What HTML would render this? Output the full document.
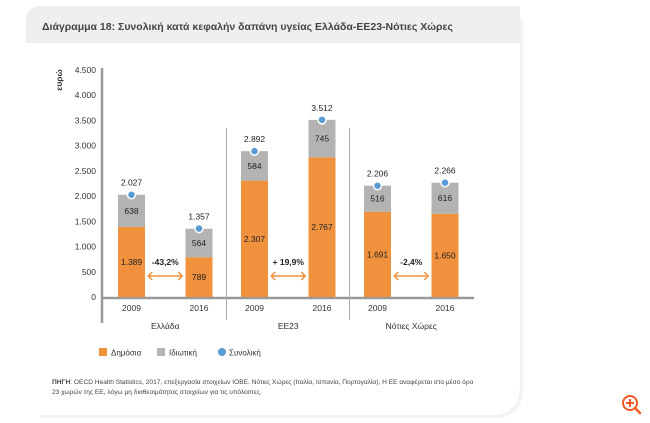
<!DOCTYPE html>
<html><head><meta charset="utf-8">
<style>
body{margin:0;background:#fff;width:650px;height:423px;overflow:hidden;font-family:"Liberation Sans","DejaVu Sans",sans-serif;}
svg{position:absolute;left:0;top:0}
</style></head>
<body>
<svg width="650" height="423">
<path d="M520,20 L523,20 L523,388 Q523,418 493,418 L40,418 L40,415 L490,415 Q520,415 520,385 Z" fill="#f3f3f3"/>
<path d="M41,6 L520,6 L520,385 Q520,415 490,415 L26,415 L26,21 Q26,6 41,6 Z" fill="#fff"/>
<path d="M41,6 L520,6 L520,43 L26,43 L26,21 Q26,6 41,6 Z" fill="#efefef"/>
<text x="42" y="30" font-size="10.5" fill="#444" font-weight="bold">Διάγραμμα 18: Συνολική κατά κεφαλήν δαπάνη υγείας Ελλάδα-ΕΕ23-Νότιες Χώρες</text>
<text transform="translate(62,80) rotate(-90)" font-size="8.5" font-weight="bold" fill="#333" text-anchor="middle">ευρώ</text>
<g id="plot"></g>
<g>
<rect x="99" y="348" width="8" height="8" fill="#f0913e"/>
<text x="111" y="355.5" font-size="8" fill="#333">Δημόσια</text>
<rect x="157" y="348" width="8" height="8" fill="#b3b3b3"/>
<text x="169" y="355.5" font-size="8" fill="#333">Ιδιωτική</text>
<circle cx="222" cy="352" r="4" fill="#5b9bd5"/>
<text x="229" y="355.5" font-size="8" fill="#333">Συνολική</text>
</g>
<text x="52" y="384" font-size="6.6" fill="#444"><tspan font-weight="bold">ΠΗΓΗ</tspan>: OECD Health Statistics, 2017, επεξεργασία στοιχείων ΙΟΒΕ. Νότιες Χώρες (Ιταλία, Ισπανία, Πορτογαλία), Η ΕΕ αναφέρεται στο μέσο όρο</text>
<text x="52" y="394" font-size="6.6" fill="#444">23 χωρών της ΕΕ, λόγω μη διαθεσιμότητας στοιχείων για τις υπόλοιπες.</text>
<g>
<circle cx="630" cy="403" r="7" fill="none" stroke="#f15a24" stroke-width="2"/>
<line x1="635" y1="408" x2="640" y2="413" stroke="#f15a24" stroke-width="2.5" stroke-linecap="round"/>
<line x1="626" y1="403" x2="634" y2="403" stroke="#f15a24" stroke-width="2"/>
<line x1="630" y1="399" x2="630" y2="407" stroke="#f15a24" stroke-width="2"/>
</g>
</svg>
<script>
const groups=["Ελλάδα","ΕΕ23","Νότιες Χώρες"];
const years=["2009","2016","2009","2016","2009","2016"];
const publicVals=[1389,789,2307,2767,1691,1650];
const privateVals=[638,564,584,745,516,616];
const totalVals=[2027,1357,2892,3512,2206,2266];
const changeLabels=["-43,2%","+ 19,9%","-2,4%"];
const yTicks=[0,500,1000,1500,2000,2500,3000,3500,4000,4500];
const fmt=v=>v>=1000?Math.floor(v/1000)+"."+String(v%1000).padStart(3,"0"):String(v);
const y0=297, yk=227/4500;
const Y=v=>y0-v*yk;
const X=i=>131.5+Math.floor(i/2)*123+(i%2)*67.5;
const bw=27;
const ns="http://www.w3.org/2000/svg";
const g=document.getElementById("plot");
function mk(t,a,txt){const e=document.createElementNS(ns,t);for(const k in a)e.setAttribute(k,a[k]);if(txt!=null)e.textContent=txt;g.appendChild(e);return e;}
yTicks.forEach(v=>{
const e=mk("text",{x:96,y:Y(v)+3,"font-size":"8.5","text-anchor":"end",fill:"#333"},fmt(v));


});
const ax=mk("line",{x1:102,y1:Y(4500)-2,x2:102,y2:323,stroke:"#999","stroke-width":2.5});


const xa=mk("line",{x1:101,y1:y0+1,x2:474,y2:y0+1,stroke:"#999","stroke-width":2.5});


[226.5,349.5].forEach(x=>{
const s=mk("line",{x1:x,y1:128,x2:x,y2:320,stroke:"#aaa","stroke-width":1});


});
years.forEach((yr,i)=>{
const cx=X(i),x=cx-bw/2;
const p=mk("rect",{x:x,y:Y(publicVals[i]),width:bw,height:publicVals[i]*yk,fill:"#f0913e"});


const q=mk("rect",{x:x,y:Y(publicVals[i]+privateVals[i]),width:bw,height:privateVals[i]*yk,fill:"#b3b3b3"});


const pl=mk("text",{x:cx,y:(Y(publicVals[i])+y0)/2+3,"font-size":"8.5","text-anchor":"middle",fill:"#222"},fmt(publicVals[i]));


const ql=mk("text",{x:cx,y:(Y(publicVals[i])+Y(publicVals[i]+privateVals[i]))/2+3,"font-size":"8.5","text-anchor":"middle",fill:"#222"},fmt(privateVals[i]));


const d=mk("circle",{cx:cx,cy:Y(totalVals[i]),r:4,fill:"#5b9bd5",stroke:"#fff","stroke-width":1.5});


const tl=mk("text",{x:cx,y:Y(totalVals[i])-9,"font-size":"8.5","text-anchor":"middle",fill:"#222"},fmt(totalVals[i]));


const yl=mk("text",{x:cx,y:311,"font-size":"8.5","text-anchor":"middle",fill:"#333"},yr);


});
groups.forEach((n,k)=>{
const cx=(X(2*k)+X(2*k+1))/2;
const gl=mk("text",{x:cx,y:329,"font-size":"8.5","text-anchor":"middle",fill:"#333"},n);


const cl=mk("text",{x:cx,y:265,"font-size":"8.5","font-weight":"bold","text-anchor":"middle",fill:"#222"},changeLabels[k]);


const a=mk("path",{d:`M${cx-17},276 L${cx+17},276 M${cx-13},272 L${cx-17},276 L${cx-13},280 M${cx+13},272 L${cx+17},276 L${cx+13},280`,stroke:"#f0913e","stroke-width":1.5,fill:"none"});


});
</script>
</body></html>
